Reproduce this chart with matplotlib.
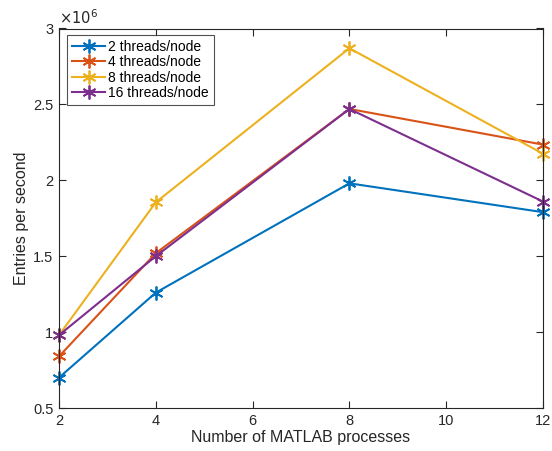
import matplotlib
matplotlib.use("Agg")
import matplotlib.pyplot as plt

plt.rcParams['font.family'] = ['Liberation Sans', 'DejaVu Sans']

processes = [2, 4, 8, 12]
labels = ['2 threads/node', '4 threads/node', '8 threads/node', '16 threads/node']
t2 = [0.70, 1.26, 1.98, 1.79]
t4 = [0.84, 1.52, 2.47, 2.235]
t8 = [0.98, 1.855, 2.87, 2.175]
t16 = [0.98, 1.50, 2.47, 1.86]
series = [t2, t4, t8, t16]
colors = ['#0072BD', '#D95319', '#EDB120', '#7E2F8E']

xticks = [2, 4, 6, 8, 10, 12]
yticks = [0.5, 1, 1.5, 2, 2.5, 3]

fig = plt.figure(figsize=(5.52, 4.51), dpi=100)
ax = fig.add_axes([59/552, 43/451, 484/552, 379.5/451])

for vals, lab, c in zip(series, labels, colors):
    ax.plot(processes, vals, color=c, lw=1.5, marker=(6, 2, 0), ms=10, mew=1.3,
            label=lab, clip_on=False)

ax.set_xlim(2, 12)
ax.set_ylim(0.5, 3)
ax.set_xticks(xticks)
ax.set_xticklabels([str(v) for v in xticks])
ax.set_yticks(yticks)
ax.set_yticklabels(['0.5', '1', '1.5', '2', '2.5', '3'])
gray = '#262626'
for s in ax.spines.values():
    s.set_color(gray)
    s.set_linewidth(0.8)
ax.tick_params(direction='in', length=5, width=0.8, colors=gray, labelsize=10.5,
               top=True, right=True, pad=4)
ax.set_xlabel('Number of MATLAB processes', fontsize=11.5, color=gray, labelpad=2)
ax.set_ylabel('Entries per second', fontsize=11.5, color=gray, labelpad=3)
ax.text(0.0, 1.005, r'$\times10^{6}$', transform=ax.transAxes, fontsize=10.5,
        color=gray, ha='left', va='bottom')

leg = ax.legend(loc='upper left', bbox_to_anchor=(0.011, 0.99), fontsize=10,
                frameon=True, fancybox=False, edgecolor=gray, borderpad=0.35,
                labelspacing=0.1, handlelength=2.4, handletextpad=0.2,
                borderaxespad=0.2)
leg.get_frame().set_linewidth(0.8)

fig.savefig('out.png', dpi=100)
